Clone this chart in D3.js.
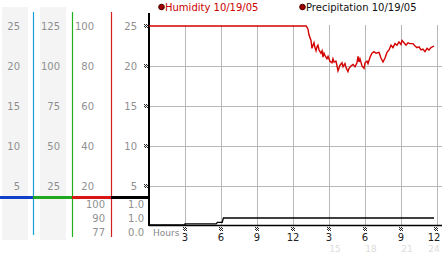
<!DOCTYPE html>
<html>
<head>
<meta charset="utf-8">
<script src="https://cdn.jsdelivr.net/npm/d3@7"></script>
<style>
  body { margin: 0; background: #fff; }
  svg { display: block; font-family: "DejaVu Sans", sans-serif; }
</style>
</head>
<body>
<svg></svg>
<script>
// data
const col1 = [25, 20, 15, 10, 5];
const col2 = [125, 100, 75, 50, 25];
const col3 = [100, 80, 60, 40, 20];
const humTicks = [25, 20, 15, 10, 5];
const lowerCol3 = ["100", "90", "77"];
const lowerCol4 = ["1.0", "1.0", "0.0"];
const hourTicks = [3, 6, 9, 12, 15, 18, 21, 24];
const hourLabels = ["3", "6", "9", "12", "3", "6", "9", "12"];
const dayTicks = [15, 18, 21, 24];
const dayLabels = ["15", "18", "21", "24"];
const legend = ["Humidity 10/19/05", "Precipitation 10/19/05"];

// humidity [hour, value]
const humidity = [
  [0, 25], [13.1, 25], [13.25, 24.6], [13.33, 23.9], [13.5, 23.2], [13.58, 22.2],
  [13.67, 22.6], [13.75, 22.9], [13.83, 22.3], [13.92, 21.9], [14.0, 22.4],
  [14.08, 22.6], [14.17, 22.0], [14.33, 21.6], [14.42, 21.9], [14.5, 21.1],
  [14.58, 21.6], [14.67, 21.3], [14.83, 20.9], [14.92, 21.2], [15.08, 20.6],
  [15.25, 20.4], [15.33, 20.9], [15.42, 20.5], [15.58, 20.6], [15.67, 20.0],
  [15.75, 19.4], [15.92, 20.1], [16.08, 20.4], [16.17, 19.9], [16.33, 20.3],
  [16.42, 19.8], [16.58, 19.3], [16.67, 19.7], [16.83, 20.0], [17.0, 20.2],
  [17.17, 19.9], [17.33, 20.4], [17.42, 21.2], [17.5, 20.5], [17.58, 20.9],
  [17.75, 20.0], [17.92, 19.7], [18.0, 20.4], [18.17, 20.6], [18.25, 20.3],
  [18.42, 21.1], [18.58, 21.6], [18.75, 21.8], [18.92, 21.6], [19.17, 21.7],
  [19.33, 21.0], [19.5, 20.5], [19.67, 21.0], [19.83, 21.7], [20.0, 22.0],
  [20.17, 22.6], [20.33, 22.3], [20.5, 22.8], [20.67, 22.6], [20.83, 23.0],
  [21.0, 22.7], [21.08, 23.2], [21.25, 22.9], [21.42, 22.6], [21.58, 22.9],
  [21.75, 22.8], [22.0, 22.8], [22.17, 22.5], [22.33, 22.3], [22.5, 22.4],
  [22.67, 22.0], [22.83, 22.1], [23.0, 21.8], [23.17, 22.2], [23.33, 22.0],
  [23.5, 22.3], [23.75, 22.5]
];

// precipitation [hour, value]
const precip = [
  [0, 0], [3, 0], [3, 0.04], [5.6, 0.04], [5.7, 0.1], [6.1, 0.1],
  [6.2, 0.26], [23.75, 0.26]
];

const svg = d3.select("svg").attr("width", 442).attr("height", 253);

const x = d3.scaleLinear().domain([0, 24]).range([149, 437]);
const y = d3.scaleLinear().domain([0, 25]).range([226, 26]);
const y2 = d3.scaleLinear().domain([0, 125]).range([226, 26]);
const y3 = d3.scaleLinear().domain([0, 100]).range([226, 26]);
const yp = d3.scaleLinear().domain([0, 1]).range([225, 198]);
const yLow = d3.scalePoint().domain([0, 1, 2]).range([204, 232]);

// left gray columns
svg.append("rect").attr("x", 2).attr("y", 7).attr("width", 26).attr("height", 233).attr("fill", "#f4f4f4");
svg.append("rect").attr("x", 40).attr("y", 7).attr("width", 26).attr("height", 233).attr("fill", "#f4f4f4");

// column vertical lines
svg.append("line").attr("x1", 33.5).attr("x2", 33.5).attr("y1", 12).attr("y2", 235).attr("stroke", "#1aa0d8").attr("stroke-width", 1.2);
svg.append("line").attr("x1", 72.5).attr("x2", 72.5).attr("y1", 12).attr("y2", 237).attr("stroke", "#20b020").attr("stroke-width", 1.2);
svg.append("line").attr("x1", 111.5).attr("x2", 111.5).attr("y1", 12).attr("y2", 237).attr("stroke", "#d02020").attr("stroke-width", 1.2);

// gridlines
const grid = svg.append("g").attr("stroke", "#b8b8b8").attr("stroke-width", 1);
humTicks.slice(1).forEach(d => {
  grid.append("line").attr("x1", 149).attr("x2", 442)
    .attr("y1", Math.round(y(d)) + 0.5).attr("y2", Math.round(y(d)) + 0.5);
});
hourTicks.forEach(d => {
  grid.append("line").attr("x1", Math.round(x(d)) + 0.5).attr("x2", Math.round(x(d)) + 0.5)
    .attr("y1", 25).attr("y2", 225);
});

// labels in left columns
const lab = svg.append("g").attr("font-size", "10px").attr("fill", "#909090").attr("text-anchor", "end");
col1.forEach(d => lab.append("text").attr("x", 20).attr("y", y(d)).attr("dy", ".35em").text(d));
col2.forEach(d => lab.append("text").attr("x", 60).attr("y", y2(d)).attr("dy", ".35em").text(d));
col3.forEach(d => lab.append("text").attr("x", 94).attr("y", y3(d)).attr("dy", ".35em").text(d));
humTicks.forEach(d => lab.append("text").attr("x", 137).attr("y", y(d)).attr("dy", ".35em").text(d));
lowerCol3.forEach((d, i) => lab.append("text").attr("x", 105).attr("y", yLow(i)).attr("dy", ".35em").text(d));
lowerCol4.forEach((d, i) => lab.append("text").attr("x", 144).attr("y", yLow(i)).attr("dy", ".35em").text(d));

// small checker tick glyph
function glyph(g, cx, cy) {
  const cells = [[0, 0], [2, 0], [1, 1], [3, 1], [0, 2], [2, 2], [1, 3], [3, 3]];
  cells.forEach(c => g.append("rect").attr("x", cx - 2 + c[0]).attr("y", cy - 2 + c[1])
    .attr("width", 1).attr("height", 1).attr("fill", "#222"));
}
const glyphs = svg.append("g");
humTicks.forEach(d => glyph(glyphs, 146, Math.round(y(d))));
hourTicks.forEach(d => glyph(glyphs, Math.min(Math.round(x(d)), 436), 229));

// colored separator
const sep = [[0, 33, "#1040c8"], [33, 72, "#20a820"], [72, 111, "#d81414"], [111, 149, "#000"]];
sep.forEach(s => svg.append("rect").attr("x", s[0]).attr("y", 196).attr("width", s[1] - s[0])
  .attr("height", 3).attr("fill", s[2]));

// bottom axis line
svg.append("line").attr("x1", 149).attr("x2", 442).attr("y1", 225.5).attr("y2", 225.5)
  .attr("stroke", "#000").attr("stroke-width", 1.5);

// main vertical axis
svg.append("line").attr("x1", 149).attr("x2", 149).attr("y1", 13).attr("y2", 226)
  .attr("stroke", "#000").attr("stroke-width", 2);

// precipitation line
const lineP = d3.line().x(d => x(d[0])).y(d => yp(d[1]));
svg.append("path").datum(precip).attr("d", lineP).attr("fill", "none")
  .attr("stroke", "#000").attr("stroke-width", 1.3);

// humidity line
const lineH = d3.line().x(d => x(d[0])).y(d => y(d[1]));
svg.append("path").datum(humidity).attr("d", lineH).attr("fill", "none")
  .attr("stroke", "#d40000").attr("stroke-width", 1.4);

// hours axis text
svg.append("text").attr("x", 153).attr("y", 236).attr("font-size", "9px").attr("fill", "#888").text("Hours");
hourTicks.forEach((d, i) => {
  svg.append("text").attr("x", Math.min(x(d), 434)).attr("y", 241).attr("text-anchor", "middle")
    .attr("font-size", "10px").attr("fill", "#222").text(hourLabels[i]);
});
dayTicks.forEach((d, i) => {
  svg.append("text").attr("x", Math.min(x(d) + 6, 434)).attr("y", 252).attr("text-anchor", "middle")
    .attr("font-size", "9px").attr("fill", "#dcdcdc").text(dayLabels[i]);
});

// legend
const leg = svg.append("g").attr("font-size", "10px");
leg.append("circle").attr("cx", 161.5).attr("cy", 7).attr("r", 2.8).attr("fill", "#a00000").attr("stroke", "#400");
leg.append("text").attr("x", 165).attr("y", 11).attr("fill", "#cc0000").text(legend[0]);
leg.append("circle").attr("cx", 302.5).attr("cy", 7).attr("r", 2.8).attr("fill", "#a00000").attr("stroke", "#400");
leg.append("text").attr("x", 306).attr("y", 11).attr("fill", "#111").text(legend[1]);
</script>
</body>
</html>
